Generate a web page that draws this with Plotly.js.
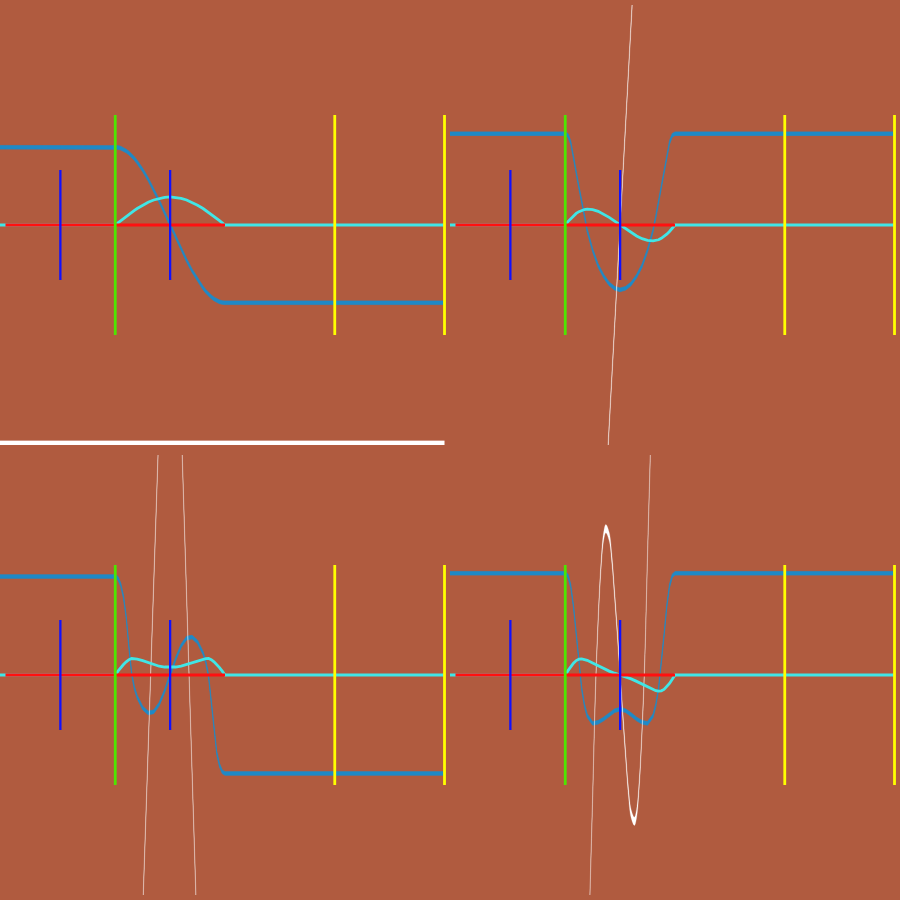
<!DOCTYPE html>
<html><head><meta charset="utf-8">
<script src="https://cdn.plot.ly/plotly-3.0.1.min.js"></script>
<style>html,body{margin:0;padding:0;background:#b05b3f;}</style>
</head><body><div id="chart" style="width:900px;height:900px"></div>
<script>
// ---- data ----
const T = [2.0,2.05,2.1,2.15,2.2,2.25,2.3,2.35,2.4,2.5,2.6,2.7,2.8,2.9,3.0,3.1,3.2,3.3,3.4,3.5,3.6,3.65,3.7,3.75,3.8,3.85,3.9,3.95,4.0];

const blue1 = [1.414,1.410,1.397,1.375,1.345,1.307,1.260,1.206,1.144,1.000,0.831,0.642,0.437,0.221,0,-0.221,-0.437,-0.642,-0.831,-1.000,-1.144,-1.206,-1.260,-1.307,-1.345,-1.375,-1.397,-1.410,-1.414];
const cyan1 = [0,0.04,0.08,0.12,0.158,0.195,0.232,0.266,0.30,0.36,0.413,0.455,0.485,0.504,0.51,0.504,0.485,0.455,0.413,0.36,0.30,0.266,0.232,0.195,0.158,0.12,0.08,0.04,0];

const blue2 = [1.66,1.63,1.50,1.23,0.93,0.68,0.43,0.15,-0.10,-0.46,-0.74,-0.93,-1.07,-1.15,-1.18,-1.15,-1.07,-0.93,-0.74,-0.46,-0.10,0.15,0.43,0.68,0.93,1.23,1.50,1.63,1.66];
const cyan2 = [0,0.062,0.118,0.168,0.21,0.243,0.268,0.282,0.29,0.281,0.249,0.2,0.139,0.071,0,-0.071,-0.139,-0.2,-0.249,-0.281,-0.29,-0.282,-0.268,-0.243,-0.21,-0.168,-0.118,-0.062,0];

const blue3 = [1.79,1.76,1.64,1.42,1.05,0.50,0.02,-0.24,-0.40,-0.60,-0.69,-0.67,-0.53,-0.29,0,0.29,0.53,0.67,0.69,0.60,0.40,0.24,-0.02,-0.50,-1.05,-1.42,-1.64,-1.76,-1.79];
const cyan3 = [0,0.07,0.135,0.19,0.24,0.28,0.30,0.298,0.29,0.26,0.225,0.19,0.16,0.145,0.14,0.145,0.16,0.19,0.225,0.26,0.29,0.298,0.30,0.28,0.24,0.19,0.135,0.07,0];

const blue4 = [1.85,1.80,1.62,1.25,0.72,0.18,-0.25,-0.55,-0.74,-0.88,-0.86,-0.80,-0.72,-0.65,-0.62,-0.65,-0.72,-0.80,-0.86,-0.88,-0.74,-0.55,-0.25,0.18,0.72,1.25,1.62,1.80,1.85];
const cyan4 = [0,0.079,0.153,0.216,0.262,0.287,0.293,0.285,0.267,0.219,0.166,0.116,0.071,0.033,0,-0.033,-0.071,-0.116,-0.166,-0.219,-0.267,-0.285,-0.293,-0.287,-0.262,-0.216,-0.153,-0.079,0];

const white1X = [-0.2, 8];
const white1Y = [-4, -4];
const white2X = [2.7, 2.78, 3.0, 3.22, 3.3];
const white2Y = [-5.5, -4, 0, 4, 5.5];
const white3X = [2.47, 2.51, 2.645, 2.78, 2.81, 3.0, 3.19, 3.22, 3.345, 3.47, 3.51];
const white3Y = [-5.2, -4, 0, 4, 4.9, 10, 5, 4, 0, -4, -5.3];
const white4X = [2.42,2.45,2.5,2.55,2.6,2.65,2.7,2.74,2.8,2.85,2.9,2.95,3.0,3.05,3.1,3.15,3.2,3.26,3.3,3.35,3.4,3.45,3.5,3.55,3.58];
const white4Y = [-5.2,-4.0,-2.2,-0.3,1.0,1.95,2.52,2.66,2.52,2.1,1.45,0.75,0,-0.75,-1.45,-2.1,-2.52,-2.66,-2.52,-1.95,-1.0,0.3,2.2,4.0,5.2];

const xStart = -0.2, xEnd = 8;
const redSeg = [0, 4];
const blueTickX = [1, 3], blueTickHalf = 1;
const greenX = [2], greenHalf = 2;
const yellowX = [6, 8], yellowHalf = 2;

// ---- build ----
const BG = '#b05b3f';
const panels = [
  {blue: blue1, cyan: cyan1, wx: white1X, wy: white1Y, ws: 'linear'},
  {blue: blue2, cyan: cyan2, wx: white2X, wy: white2Y, ws: 'linear'},
  {blue: blue3, cyan: cyan3, wx: white3X, wy: white3Y, ws: 'linear'},
  {blue: blue4, cyan: cyan4, wx: white4X, wy: white4Y, ws: 'spline'}
];

function band(x, y, d, color, edgeColor, xa, ya, shape, edge) {
  const lo = {x: x, y: y.map(v => v - d), xaxis: xa, yaxis: ya, mode: 'lines',
    line: {width: edge, color: edgeColor, shape: shape}, hoverinfo: 'skip', showlegend: false};
  const hi = {x: x, y: y.map(v => v + d), xaxis: xa, yaxis: ya, mode: 'lines',
    line: {width: edge, color: edgeColor, shape: shape}, fill: 'tonexty', fillcolor: color, hoverinfo: 'skip', showlegend: false};
  return [lo, hi];
}
function vlines(xs, half, color, width, xa, ya) {
  const X = [], Y = [];
  xs.forEach(v => { X.push(v, v, null); Y.push(-half, half, null); });
  return {x: X, y: Y, xaxis: xa, yaxis: ya, mode: 'lines', line: {color: color, width: width}, hoverinfo: 'skip', showlegend: false};
}

const traces = [];
panels.forEach((p, i) => {
  const s = i === 0 ? '' : String(i + 1);
  const xa = 'x' + s, ya = 'y' + s;
  const bx = [xStart].concat(T, [xEnd]);
  const by = [p.blue[0]].concat(p.blue, [p.blue[p.blue.length - 1]]);
  traces.push(...band(bx, by, 0.033, '#1f89c6', '#1f89c6', xa, ya, 'linear', 0.7));
  traces.push(...band(p.wx, p.wy, 0.075, '#ffffff', 'rgba(255,255,255,0.35)', xa, ya, p.ws, 0.7));
  const cx = [xStart].concat(T, [xEnd]);
  const cy = [0].concat(p.cyan, [0]);
  traces.push({x: cx, y: cy, xaxis: xa, yaxis: ya, mode: 'lines', line: {color: '#40e6e6', width: 2.8}, hoverinfo: 'skip', showlegend: false});
  traces.push({x: redSeg, y: [0, 0], xaxis: xa, yaxis: ya, mode: 'lines', line: {color: '#ff1010', width: 2.8}, hoverinfo: 'skip', showlegend: false});
  traces.push(vlines(greenX, greenHalf, '#4de600', 2.8, xa, ya));
  traces.push(vlines(yellowX, yellowHalf, '#ffff00', 2.8, xa, ya));
  traces.push(vlines(blueTickX, blueTickHalf, '#1010ff', 2.3, xa, ya));
});

const ax = (dom, rng, anchor) => ({domain: dom, range: rng, anchor: anchor, visible: false, fixedrange: true});
const XR = [-0.1, 8.1], YR = [-4, 4];
const topD = [0.50556, 0.99444], botD = [0.00556, 0.49444];
const layout = {
  width: 900, height: 900, margin: {l: 0, r: 0, t: 0, b: 0},
  paper_bgcolor: BG, plot_bgcolor: BG, showlegend: false, hovermode: false,
  xaxis: ax([0, 0.5], XR, 'y'), yaxis: ax(topD, YR, 'x'),
  xaxis2: ax([0.5, 1], XR, 'y2'), yaxis2: ax(topD, YR, 'x2'),
  xaxis3: ax([0, 0.5], XR, 'y3'), yaxis3: ax(botD, YR, 'x3'),
  xaxis4: ax([0.5, 1], XR, 'y4'), yaxis4: ax(botD, YR, 'x4')
};
Plotly.newPlot('chart', traces, layout, {displayModeBar: false, staticPlot: true});
</script></body></html>
